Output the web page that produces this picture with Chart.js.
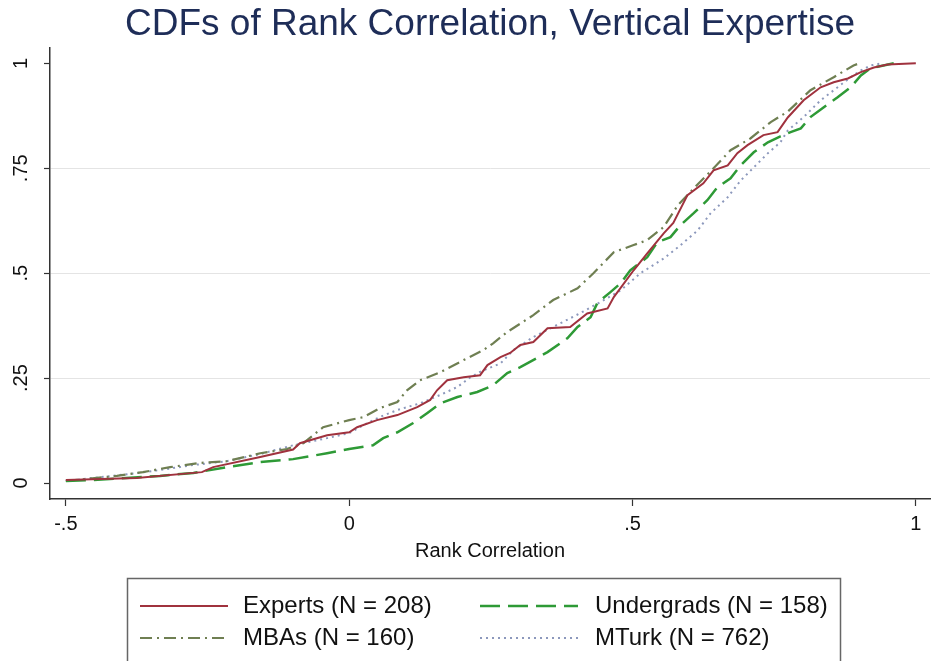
<!DOCTYPE html>
<html>
<head>
<meta charset="utf-8">
<script src="https://cdn.jsdelivr.net/npm/chart.js@4.4.1/dist/chart.umd.min.js"></script>
<style>
  html, body { margin: 0; padding: 0; background: #fff; }
  #wrap { width: 933px; height: 661px; position: relative; }
</style>
</head>
<body>
<div id="wrap"><canvas id="cdfChart" width="933" height="661"></canvas></div>
<script>
// values
var expertsX = [-0.5, -0.375, -0.26, -0.24, -0.157, -0.099, -0.087, -0.039, 0, 0.014, 0.049, 0.085, 0.12, 0.143, 0.155, 0.173, 0.202, 0.231, 0.244, 0.267, 0.284, 0.302, 0.325, 0.35, 0.39, 0.42, 0.456, 0.467, 0.502, 0.526, 0.555, 0.572, 0.597, 0.625, 0.643, 0.668, 0.685, 0.703, 0.731, 0.756, 0.774, 0.802, 0.832, 0.855, 0.88, 0.903, 0.926, 0.95, 1.0];
var expertsY = [0.007, 0.012, 0.026, 0.038, 0.062, 0.08, 0.095, 0.114, 0.121, 0.133, 0.15, 0.162, 0.181, 0.198, 0.221, 0.245, 0.252, 0.257, 0.281, 0.30, 0.31, 0.329, 0.336, 0.369, 0.372, 0.404, 0.416, 0.443, 0.507, 0.547, 0.595, 0.62, 0.686, 0.714, 0.745, 0.757, 0.786, 0.805, 0.829, 0.836, 0.871, 0.912, 0.943, 0.955, 0.964, 0.979, 0.99, 0.997, 1.0];

var undergradsX = [-0.5, -0.452, -0.334, -0.275, -0.216, -0.157, -0.099, -0.039, 0, 0.042, 0.06, 0.085, 0.113, 0.138, 0.161, 0.191, 0.226, 0.254, 0.279, 0.302, 0.35, 0.385, 0.403, 0.426, 0.438, 0.461, 0.479, 0.496, 0.526, 0.544, 0.567, 0.585, 0.608, 0.632, 0.65, 0.673, 0.691, 0.714, 0.739, 0.761, 0.779, 0.797, 0.814, 0.837, 0.862, 0.885, 0.903, 0.92, 0.943, 0.961];
var undergradsY = [0.005, 0.007, 0.017, 0.024, 0.038, 0.05, 0.057, 0.071, 0.081, 0.09, 0.107, 0.121, 0.143, 0.167, 0.19, 0.205, 0.217, 0.233, 0.262, 0.276, 0.312, 0.345, 0.372, 0.395, 0.429, 0.455, 0.476, 0.507, 0.538, 0.574, 0.586, 0.615, 0.643, 0.674, 0.705, 0.726, 0.757, 0.788, 0.812, 0.826, 0.836, 0.845, 0.872, 0.895, 0.919, 0.943, 0.971, 0.988, 0.995, 1.0];

var mbasX = [-0.5, -0.41, -0.364, -0.316, -0.263, -0.216, -0.157, -0.11, -0.081, -0.046, 0, 0.025, 0.055, 0.085, 0.102, 0.125, 0.161, 0.202, 0.237, 0.254, 0.279, 0.325, 0.36, 0.403, 0.431, 0.467, 0.502, 0.526, 0.555, 0.58, 0.608, 0.643, 0.673, 0.708, 0.744, 0.774, 0.814, 0.855, 0.89, 0.9];
var mbasY = [0.005, 0.017, 0.026, 0.038, 0.048, 0.052, 0.071, 0.081, 0.095, 0.133, 0.15, 0.157, 0.179, 0.193, 0.221, 0.245, 0.264, 0.293, 0.317, 0.333, 0.36, 0.40, 0.436, 0.464, 0.50, 0.55, 0.567, 0.579, 0.61, 0.662, 0.702, 0.75, 0.793, 0.821, 0.86, 0.885, 0.936, 0.967, 0.995, 1.0];

var mturkX = [-0.5, -0.392, -0.334, -0.275, -0.216, -0.157, -0.099, -0.039, 0, 0.025, 0.055, 0.085, 0.125, 0.161, 0.191, 0.214, 0.231, 0.267, 0.29, 0.325, 0.36, 0.408, 0.443, 0.479, 0.514, 0.555, 0.585, 0.615, 0.638, 0.668, 0.691, 0.714, 0.739, 0.761, 0.774, 0.802, 0.832, 0.862, 0.885, 0.903, 0.92, 0.94];
var mturkY = [0.005, 0.021, 0.031, 0.043, 0.052, 0.069, 0.09, 0.107, 0.119, 0.138, 0.158, 0.174, 0.19, 0.21, 0.229, 0.252, 0.265, 0.285, 0.317, 0.348, 0.372, 0.405, 0.431, 0.459, 0.5, 0.535, 0.567, 0.602, 0.643, 0.681, 0.721, 0.752, 0.786, 0.812, 0.84, 0.872, 0.912, 0.943, 0.967, 0.983, 0.995, 1.0];

var seriesLabels = ['Experts (N = 208)', 'Undergrads (N = 158)', 'MBAs (N = 160)', 'MTurk (N = 762)'];
var xTicks = [-0.5, 0, 0.5, 1];
var xTickLabels = ['-.5', '0', '.5', '1'];
var yTicks = [0, 0.25, 0.5, 0.75, 1];
var yTickLabels = ['0', '.25', '.5', '.75', '1'];

var FONT = '"Liberation Sans", Arial, sans-serif';

function pts(xs, ys) {
    return xs.map(function(x, i) { return {x: x, y: ys[i]}; });
}

// y labels are drawn rotated, Stata style
var yLabelPlugin = {
    id: 'yLabels',
    afterDraw: function(chart) {
        var ctx = chart.ctx, scale = chart.scales.y;
        ctx.save();
        ctx.font = '20px ' + FONT;
        ctx.fillStyle = '#111';
        ctx.textAlign = 'center';
        ctx.textBaseline = 'middle';
        scale.ticks.forEach(function(t, i) {
            var y = scale.getPixelForValue(t.value);
            ctx.save();
            ctx.translate(21, y);
            ctx.rotate(-Math.PI / 2);
            ctx.fillText(yTickLabels[i], 0, 0);
            ctx.restore();
        });
        ctx.restore();
    }
};

// boxed legend, two columns
var legendPlugin = {
    id: 'boxLegend',
    afterDraw: function(chart) {
        var ctx = chart.ctx;
        var slots = [
            {ds: 0, x0: 140, x1: 228, tx: 243, y: 606},
            {ds: 1, x0: 480, x1: 578, tx: 595, y: 606},
            {ds: 2, x0: 140, x1: 228, tx: 243, y: 638},
            {ds: 3, x0: 480, x1: 578, tx: 595, y: 638}
        ];
        ctx.save();
        ctx.strokeStyle = '#666';
        ctx.lineWidth = 1.5;
        ctx.strokeRect(127.5, 578.5, 713, 84);
        ctx.font = '24px ' + FONT;
        ctx.fillStyle = '#111';
        ctx.textBaseline = 'middle';
        slots.forEach(function(s) {
            var d = chart.data.datasets[s.ds];
            ctx.save();
            ctx.strokeStyle = d.borderColor;
            ctx.lineWidth = d.borderWidth;
            ctx.setLineDash(d.borderDash || []);
            ctx.beginPath();
            ctx.moveTo(s.x0, s.y);
            ctx.lineTo(s.x1, s.y);
            ctx.stroke();
            ctx.restore();
            ctx.fillText(d.label, s.tx, s.y);
        });
        ctx.restore();
    }
};

document.addEventListener("DOMContentLoaded", function() {
    var ctx = document.getElementById('cdfChart').getContext('2d');
    var chart = new Chart(ctx, {
        type: 'line',
        data: {
            datasets: [{
                label: seriesLabels[0],
                data: pts(expertsX, expertsY),
                borderColor: '#a0323e',
                borderWidth: 2
            }, {
                label: seriesLabels[1],
                data: pts(undergradsX, undergradsY),
                borderColor: '#2e9a36',
                borderWidth: 2.5,
                borderDash: [20, 8]
            }, {
                label: seriesLabels[2],
                data: pts(mbasX, mbasY),
                borderColor: '#6f7f52',
                borderWidth: 2.2,
                borderDash: [12, 5, 2, 5]
            }, {
                label: seriesLabels[3],
                data: pts(mturkX, mturkY),
                borderColor: '#8c98bc',
                borderWidth: 2,
                borderDash: [2, 4]
            }]
        },
        options: {
            responsive: false,
            animation: false,
            elements: { point: { radius: 0 }, line: { tension: 0, fill: false } },
            layout: { padding: { top: 0, left: 0, right: 3, bottom: 92 } },
            plugins: {
                legend: { display: false },
                tooltip: { enabled: false },
                title: {
                    display: true,
                    text: 'CDFs of Rank Correlation, Vertical Expertise',
                    color: '#1e2d58',
                    font: { family: FONT, size: 37, weight: 'normal' },
                    padding: { top: 3, bottom: 0 },
                    fullSize: false
                }
            },
            scales: {
                x: {
                    type: 'linear',
                    min: -0.528,
                    max: 1.025,
                    afterBuildTicks: function(s) { s.ticks = xTicks.map(function(v) { return {value: v}; }); },
                    afterFit: function(s) { s.height = 70; },
                    ticks: {
                        padding: 6,
                        color: '#111',
                        font: { family: FONT, size: 20 },
                        maxRotation: 0,
                        callback: function(v) { return xTickLabels[xTicks.indexOf(v)]; }
                    },
                    grid: { drawOnChartArea: false, tickLength: 7, tickColor: '#333', tickWidth: 1.2 },
                    border: { color: '#333', width: 1.5 },
                    title: {
                        display: true,
                        text: 'Rank Correlation',
                        color: '#111',
                        font: { family: FONT, size: 20 },
                        padding: { top: 0, bottom: 6 }
                    }
                },
                y: {
                    type: 'linear',
                    min: -0.038,
                    max: 1.038,
                    afterBuildTicks: function(s) { s.ticks = yTicks.map(function(v) { return {value: v}; }); },
                    afterFit: function(s) { s.width = 50; },
                    ticks: { display: false },
                    grid: {
                        tickLength: 6,
                        tickColor: '#333',
                        tickWidth: 1.2,
                        color: function(c) {
                            var v = c.tick ? c.tick.value : null;
                            return (v === 0 || v === 1) ? 'rgba(0,0,0,0)' : '#e4e4e4';
                        }
                    },
                    border: { color: '#333', width: 1.5 }
                }
            }
        },
        plugins: [yLabelPlugin, legendPlugin]
    });
});
</script>
</body>
</html>
